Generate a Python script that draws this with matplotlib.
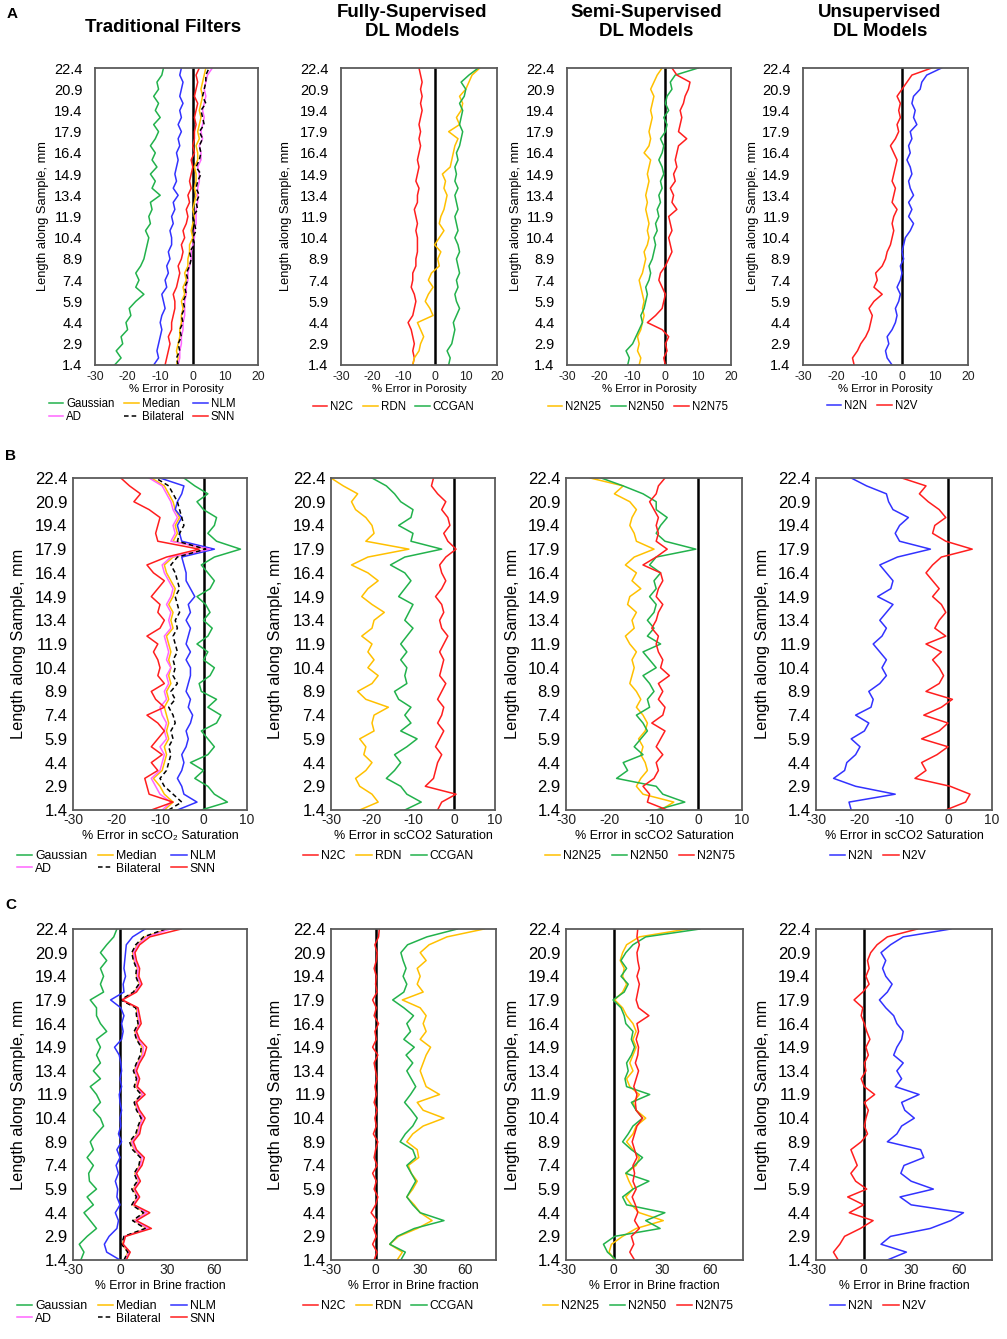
import numpy as np
import matplotlib
matplotlib.use('Agg')
import matplotlib.pyplot as plt

# depth ticks (mm) shared by every panel
y_ticks = [1.4, 2.9, 4.4, 5.9, 7.4, 8.9, 10.4, 11.9, 13.4, 14.9, 16.4, 17.9, 19.4, 20.9, 22.4]

# ---- A: % error in porosity, values from 1.4 mm (bottom) to 22.4 mm (top), every 0.5 mm
por_gaussian = [-24, -22, -23.5, -21.5, -22, -20, -20.5, -19, -19.5, -17.5,
                -15, -17.5, -16.5, -17.5, -16, -15, -14.5, -14, -13.5, -14.5,
                -13, -13.5, -12.5, -13, -10, -12.5, -11.5, -13, -11, -12.5,
                -11.5, -13, -11.5, -10.5, -12, -10, -11.5, -10.5, -12, -10.5,
                -11, -9.5, -9]
por_median = [-5, -4.5, -5, -4.5, -4, -4, -3.5, -3.5, -3, -3.5,
              -2.5, -3, -2, -2.5, -1.5, -1.5, -1, -1, 0, -0.5,
              0, 0.5, 0, 0.5, 1, 0.5, 1, 1, 0.5, 1.5,
              1.5, 1, 2, 1.5, 2, 2.5, 2, 2.5, 3, 2.5,
              3, 3.5, 4]
por_nlm = [-12, -10.5, -11, -10.5, -10, -9.5, -10, -9.5, -8.5, -9,
           -9.5, -8, -8.5, -7.5, -8, -7, -7.5, -6.5, -6.5, -7,
           -6, -6.5, -5.5, -6, -4.5, -6, -5, -5.5, -5, -4.5,
           -5, -4, -4.5, -3.5, -4.5, -3.5, -4, -3, -4, -3.5,
           -3, -4, -3.5]
por_ad = [-4.5, -4, -4, -3.5, -3.5, -3, -3, -2.5, -2.5, -2.5,
          -2, -2, -1.5, -1.5, -1, -0.5, -0.5, 0, 0.5, 0.5,
          1, 1, 1, 1.5, 1.5, 1.5, 2, 2, 1.5, 2.5,
          2.5, 2, 3, 2.5, 3, 3.5, 3, 3.5, 4, 3.5,
          4, 4.5, 6]
por_bilateral = [-4.5, -5, -4, -4.5, -3.5, -4, -3, -3.5, -2.5, -3,
                 -2, -2.5, -1.5, -2, -1, -0.5, -1, 0.5, 0, 1,
                 0.5, 0, 1.5, 1, 2, 1, 1.5, 2.5, 1, 2,
                 2.5, 2, 3, 2, 3.5, 3, 2.5, 4, 3, 3.5,
                 4, 4, 5]
por_snn = [-8.5, -8, -7.5, -7, -7.5, -6.5, -6.5, -6, -5.5, -5.5,
           -6, -5, -4.5, -4, -4.5, -3.5, -3, -3.5, -2.5, -3,
           -2, -1.5, -2, -1, -1.5, -0.5, -1, -0.5, 0, -0.5,
           0.5, 0, 0.5, 0.5, 1, 0.5, 1, 1.5, 0.5, 1,
           1.5, 1, 2]
por_n2c = [-7, -6.5, -7, -6.5, -7, -7.5, -8.5, -7, -6.5, -6,
           -6.5, -7.5, -7, -7, -6, -6, -5.5, -5.5, -5.5, -6,
           -5.5, -6, -6.5, -5.5, -5.5, -5, -6, -5.5, -5, -5.5,
           -5, -4.5, -5, -4.5, -5, -4.5, -4, -4.5, -4, -4.5,
           -4, -4.5, -5]
por_rdn = [-7, -6.5, -5, -4.5, -3.5, -4.5, -5.5, -0.5, -1.5, -3,
           -2, -0.5, -2, -1, 1.5, 1, 2, 0, 1.5, 3,
           1.5, 2, 3, 3.5, 4, 3, 3.5, 2.5, 5, 5.5,
           6, 6.5, 7.5, 4.5, 8, 7, 8.5, 9, 8, 10,
           11, 12, 14.5]
por_ccgan = [4.5, 5, 4, 5.5, 6, 6.5, 6, 7, 8, 7,
             6.5, 7.5, 7, 8, 7.5, 7, 8, 7.5, 6.5, 7.5,
             7, 6.5, 7.5, 7, 6.5, 7.5, 6.5, 7, 6.5, 7.5,
             7, 8, 8.5, 9, 8, 8.5, 9, 8, 9.5, 10,
             8.5, 11, 14]
por_n2n25 = [-8, -7.5, -8.5, -8, -8.5, -7.5, -7, -6.5, -7, -6.5,
             -7, -7.5, -8, -7, -6.5, -6, -6.5, -5.5, -5, -5.5,
             -5, -5.5, -6, -5.5, -6, -5.5, -5, -5.5, -5, -4.5,
             -6.5, -5, -4.5, -5, -4.5, -4, -4.5, -4, -3.5, -4.5,
             -3.5, -2.5, -1]
por_n2n50 = [-11.5, -11, -12, -10, -9, -8, -7, -7.5, -6.5, -6,
             -5.5, -6, -5, -4.5, -5, -4, -3.5, -3, -3.5, -2.5,
             -3, -2, -2.5, -1.5, -2, -1, -1.5, -0.5, -1, -2,
             -1, -0.5, -1.5, 0, 0.5, -0.5, 1, 0, 0.5, 2,
             1.5, 3, 10]
por_n2n75 = [0, -0.5, 0.5, 0, 1, -1, -5.5, -3, -1, -0.5,
             0, -1, -2, -1.5, 0, 1, 2, 1.5, 1, 2,
             1.5, 1, 3.5, 2, 2.5, 1.5, 3, 2.5, 3.5, 3,
             3.5, 4, 6.5, 4, 4.5, 5, 4.5, 5.5, 6, 7,
             7.5, 3.5, 2]
por_n2n = [-3, -4.5, -5, -4, -4.5, -3, -2, -1.5, -2, -1,
           -0.5, -1.5, -0.5, 0, -0.5, 0.5, 0, 0.5, 1, 2.5,
           3.5, 2, 3, 2, 3.5, 2.5, 2, 3, 2.5, 1.5,
           2.5, 2, 3, 2.5, 4.5, 3.5, 4, 3, 3.5, 5.5,
           6, 7.5, 12]
por_n2v = [-14.5, -15, -13.5, -12.5, -11, -10, -9.5, -9, -10, -8.5,
           -6, -8.5, -7.5, -8, -6, -5, -4.5, -3.5, -3, -2.5,
           -3, -2.5, -1.5, -3, -2.5, -2, -3, -2.5, -2, -1.5,
           -2.5, -3.5, -2, -1, -1.5, -0.5, -1, -0.5, -1.5, 0,
           1.5, 3, 9]

# ---- B: % error in scCO2 saturation
sat_gaussian = [-0.5, 5.5, 2.5, 1, -2, 0, -3, 1, 2.5, 1,
                -0.5, 3, 4, 1, 3, -0.5, -1, 1.5, 2.5, 0,
                1, -1.5, 1, 2, 0, 1.5, 0.5, -1.5, 1.5, 2.5,
                1, -0.5, 2.5, 8.5, 3, 1, 2.5, 3, 0, -1.5,
                1, -2, -4.5]
sat_median = [-9, -7, -9, -10, -11.5, -9.5, -9, -8.5, -9, -8,
              -8.5, -8, -8.5, -9, -8, -8.5, -7.5, -8, -7.5, -8,
              -7.5, -8, -8.5, -7, -7.5, -7, -8, -7, -6.5, -7.5,
              -8.5, -9, -7, 1, -7, -6, -6.5, -5.5, -6.5, -7,
              -8, -9, -12]
sat_nlm = [-6, -1.5, -4.5, -5, -6, -5, -4.5, -5, -4, -3.5,
           -4, -3, -2.5, -3.5, -3, -4, -3.5, -3, -3, -4,
           -3, -4, -3.5, -3, -4, -3, -3.5, -2, -3, -4,
           -4, -4.5, -5, 2.5, -5, -5.5, -6, -5, -6.5, -6,
           -5, -4.5, -10]
sat_ad = [-9.5, -7.5, -10, -11, -12, -10, -9.5, -9, -10, -8.5,
          -9, -8.5, -9.5, -10, -8.5, -9, -8, -8.5, -7.5, -8.5,
          -8, -8.5, -9, -7.5, -8, -7.5, -8.5, -7.5, -7, -8,
          -9, -9.5, -7.5, 1.5, -7.5, -6.5, -7, -6, -7, -7.5,
          -8.5, -9.5, -12.5]
sat_bilateral = [-8, -5, -7, -9, -10, -8.5, -8, -7.5, -8, -7,
                 -7.5, -6.5, -7, -8, -6.5, -7.5, -6, -7, -6.5, -7,
                 -6, -6.5, -7, -6, -6.5, -5.5, -6, -6.5, -5.5, -6,
                 -6.5, -7.5, -6, 0.5, -6, -5.5, -4.5, -5, -5.5, -6,
                 -7, -8, -11]
sat_snn = [-12, -7, -12.5, -13, -13.5, -10.5, -12, -9.5, -12, -10.5,
           -9, -10.5, -13, -9, -11, -12, -9, -10.5, -10, -10.5,
           -11.5, -10.5, -13, -10, -9, -10.5, -10, -12, -10.5, -9,
           -11.5, -13, -8.5, -1, -10.5, -11, -10.5, -10, -12.5, -16,
           -14.5, -17, -19]
sat_n2c = [-4, -3, 0.5, -7, -5, -4.5, -4, -3, -4.5, -3.5,
           -2.5, -4, -3, -2.5, -4, -3, -2, -3.5, -3, -2.5,
           -3.5, -2.5, -1.5, -3, -3.5, -2.5, -3, -4.5, -3, -2,
           -3, -3.5, -2, 0.5, -1.5, -2.5, -1, -1.5, -3, -2,
           -4, -5.5, -5]
sat_rdn = [-23, -18.5, -20, -23, -24, -21.5, -20, -22, -21.5, -23,
           -19.5, -20, -19.5, -16, -21.5, -23.5, -20, -18.5, -21, -19.5,
           -21, -20, -22.5, -20, -19.5, -17, -20, -22.5, -21, -18.5,
           -21, -25, -21, -11, -21.5, -19.5, -20, -21.5, -24, -25,
           -23.5, -27, -30]
sat_ccgan = [-12, -8, -11.5, -13, -16.5, -14.5, -13, -14.5, -11.5, -9,
             -13, -10.5, -12, -10.5, -13.5, -14.5, -11.5, -12, -11.5, -13,
             -11.5, -13, -11.5, -10, -12, -11, -10, -13.5, -12, -10.5,
             -12, -15.5, -12, -3, -10.5, -10, -13.5, -10.5, -10, -13,
             -14.5, -16.5, -20]
sat_n2n25 = [-8.5, -5.5, -12.5, -14, -13, -11.5, -12, -13, -12.5, -13.5,
             -12, -11.5, -12.5, -14, -13, -14, -15.5, -15, -14.5, -15,
             -14, -15.5, -16.5, -14.5, -15, -14, -16, -15.5, -13, -15,
             -14, -16.5, -14.5, -10, -14, -14.5, -15.5, -15, -14, -15.5,
             -19, -17, -24.5]
sat_n2n50 = [-9.5, -3, -8, -9.5, -18.5, -16, -17, -12.5, -14.5, -13,
             -11.5, -12.5, -14, -11, -11.5, -10, -11, -12.5, -9.5, -11,
             -12.5, -8.5, -11.5, -10, -11.5, -10, -9.5, -11, -9.5, -10,
             -8.5, -11, -9.5, -0.5, -7.5, -9.5, -8.5, -7, -9.5, -9.5,
             -12.5, -17, -22]
sat_n2n75 = [-7, -11.5, -11, -12.5, -10, -9, -9.5, -8, -9.5, -8.5,
             -7.5, -10.5, -8, -7.5, -9, -8, -9, -6.5, -8.5, -8,
             -9, -9.5, -9, -10.5, -9.5, -9, -8, -9.5, -9, -8,
             -8.5, -12.5, -9.5, -7, -9.5, -9, -9.5, -9, -10, -11,
             -9.5, -9, -7.5]
sat_n2n = [-22, -22.5, -12, -21, -26, -23.5, -23, -21, -20, -22,
           -19, -18, -21, -17.5, -17, -18, -15.5, -14, -15, -14,
           -15.5, -17, -15, -14, -15.5, -14, -12.5, -16, -13, -12.5,
           -14, -15.5, -11.5, -4, -11, -12, -11, -9, -12.5, -13.5,
           -14, -18.5, -22]
sat_n2v = [-0.5, 4, 5, 0.5, -7.5, -5, -6, -2.5, 0, -6,
           -2, 0, -5.5, -1.5, 1, -5, -2, -1, -2, -3.5,
           -1.5, -5, -0.5, -3, -2, -0.5, -1.5, -3.5, -2, -3.5,
           -5, -3.5, -1.5, 5.5, -0.5, -3.5, -3, -0.5, -2, -4.5,
           -6.5, -5, -10.5]

# ---- C: % error in brine fraction
brine_gaussian = [-25, -23, -26, -21, -15, -19, -23, -17, -21, -15,
                  -19.5, -20, -17, -21, -17, -19, -15, -10.5, -12.5, -17,
                  -12.5, -15, -19, -12.5, -17, -12.5, -15, -12.5, -15, -8.5,
                  -12.5, -15, -15, -19, -10.5, -12.5, -10.5, -12.5, -8.5, -12.5,
                  -8.5, -4, -2]
brine_median = [3, 5, 1.5, 3, 17, 9, 16, 8, 11, 8.5,
                11.5, 9.5, 12.5, 13.5, 9, 7, 11, 12, 14, 11,
                9.5, 14, 10, 11, 9, 11, 14, 14, 11, 9.5,
                12, 11, 10.5, 1, 9, 12.5, 10.5, 11, 9, 8,
                11, 16, 30]
brine_nlm = [0, -8.5, -10, -7, -2, -1, -3, 0, -2, -1.5,
             -3, -1, -2.5, 0, -2, 1, -1, 0.5, 0, 1,
             0, -0.5, 1, 0, 1, 0.5, -0.5, -3.5, 1, 2,
             1, 2.5, 0.5, -6, 2.5, 2, 3.5, 2.5, 3, 3.5,
             4, 8, 16]
brine_ad = [3.5, 5.5, 2, 3, 18, 9.5, 17, 8.5, 11.5, 9,
            12, 10, 13, 14, 9.5, 7.5, 11.5, 12.5, 14.5, 11.5,
            10, 14.5, 10.5, 11.5, 9.5, 11.5, 14.5, 15, 11.5, 10,
            12.5, 11.5, 11, 1, 9.5, 13, 11, 11.5, 9.5, 8.5,
            11.5, 17, 32]
brine_bilateral = [2.5, 5, 1, 2.5, 16, 8, 15, 7.5, 10.5, 7.5,
                   11, 9, 12, 13, 8, 6, 10, 11.5, 13.5, 10.5,
                   9, 13.5, 9, 10.5, 8.5, 10.5, 13, 13.5, 10.5, 9,
                   11.5, 10.5, 10, 0.5, 8.5, 12, 10, 10.5, 8.5, 7.5,
                   10, 15, 29]
brine_snn = [4, 6.5, 2, 3.5, 20, 10.5, 19, 9, 12.5, 9.5,
             13, 10.5, 14, 15.5, 10.5, 8.5, 12.5, 13.5, 16, 12.5,
             10.5, 16, 11, 12.5, 10.5, 12.5, 15.5, 17, 12.5, 10.5,
             13.5, 12.5, 11.5, 1.5, 10.5, 14, 12, 12.5, 10.5, 9.5,
             12.5, 19, 39]
brine_n2c = [-1, 1, -2, 0.5, -1.5, 1, -3, 0, 1.5, -1,
             0.5, -2, 1, -1, 0, 1.5, -1.5, 0.5, -0.5, 1,
             -1, 0.5, -0.5, 1, 0, -1, 1.5, -2, 0.5, -0.5,
             2, -1, 0.5, -2, 1, 0, 0.5, -1, 0.5, 1,
             -0.5, 2, 2.5]
brine_rdn = [14.5, 18, 9.5, 15.5, 28, 38, 30, 26, 21, 25,
             28, 24, 22, 29, 28, 21, 25, 32, 46, 32,
             28, 43, 34, 32, 30, 32, 34, 37, 30, 34,
             32, 34, 30, 18, 32, 28, 30, 28, 34, 30,
             36, 48, 73]
brine_ccgan = [17, 20, 9.5, 14.5, 26, 46, 30, 25, 21, 24,
               27, 24, 21, 27, 25, 16.5, 20, 25, 28, 24,
               19.5, 23.5, 27, 24, 21, 25, 20.5, 26, 19, 23.5,
               21, 25.5, 19, 11.5, 19, 21, 18.5, 20.5, 18.5, 17,
               21.5, 34.5, 55]
brine_n2n25 = [0.5, -3, -1.5, 5.5, 14, 31, 16, 11, 7.5, 12,
               9.5, 7.5, 14, 16, 12, 8, 12, 14, 20, 14,
               12, 16, 10, 8, 12, 10, 12, 14, 12, 14,
               12, 8, 5.5, 0.5, 5.5, 8, 5.5, 6.5, 4, 5.5,
               8, 16, 46]
brine_n2n50 = [1.5, -4, -6.5, 0.5, 29, 20, 32, 8, 5.5, 12,
               22, 7.5, 13, 18, 11, 5.5, 9, 12, 18, 14,
               11, 22.5, 8, 7, 9, 8, 11, 13, 11, 12,
               7.5, 6.5, 4.5, -0.5, 6.5, 9, 4.5, 8, 4.5, 7.5,
               12, 20, 54]
brine_n2n75 = [13, 10, 12.5, 11, 16, 13, 15, 13.5, 11.5, 14,
               12, 13, 12, 14.5, 13, 11.5, 13, 14.5, 18, 14,
               13.5, 14.5, 12.5, 14, 15.5, 13.5, 15, 15.5, 14, 15.5,
               14.5, 22, 15.5, 14, 15, 16, 14.5, 16, 15, 14.5,
               16, 14.5, 15]
brine_n2n = [15, 27, 11, 17, 42, 55, 63, 30, 23, 44,
             30, 23.5, 25.5, 38, 36, 15, 21, 24, 32, 26,
             24, 35, 20, 24, 21, 25, 19, 21, 24, 25,
             21, 19, 14, 10, 15, 18, 14, 12, 14, 11,
             17, 25, 55]
brine_n2v = [-16, -19, -15, -12, -2, 6, -9, 0, -10, 2,
             -5, -8, -4, -6, -8, -1.5, 2.5, 0.5, 1.5, 3,
             0.5, 7, 0.5, -1.5, 1.5, 0.5, 3, 1.5, 4, 2,
             0.5, -1.5, -0.5, -6, -0.5, 3.5, 1.5, 3.5, 2.5, 4.5,
             8.5, 15, 34]

GREEN = '#22b24c'
YELLOW = '#ffc000'
BLUE = '#3232ff'
RED = '#ff1e1e'
PINK = '#ff66ff'
DASH = (0, (3, 2))

plt.rcParams['font.family'] = ['Liberation Sans', 'DejaVu Sans']

W, H = 1007, 1339
fig = plt.figure(figsize=(W / 100, H / 100), dpi=100)


def rect(l, t, r, b):
    return [l / W, 1 - b / H, (r - l) / W, (b - t) / H]


fs_a = dict(ytick=10.5, xtick=8.8, xlabel=8.2, ylabel=9.3, legend=8.3, ypad=9, xpad=4, xlpad=1)
fs_b = dict(ytick=12, xtick=10, xlabel=9, ylabel=11.7, legend=8.8, ypad=4, xpad=2, xlpad=2)
fs_c = dict(ytick=12, xtick=10, xlabel=8.8, ylabel=11.7, legend=8.8, ypad=4, xpad=2, xlpad=2)


def draw(box, series, xlim, xticks, xlabel, fs, ylab_dx, leg_xy, ncol, order=None):
    ax = fig.add_axes(rect(*box))
    ax.axvline(0, color='black', lw=1.8, zorder=1.5)
    handles = []
    for label, vals, color, ls in series:
        depth = np.linspace(y_ticks[0], y_ticks[-1], len(vals))
        h, = ax.plot(vals, depth, color=color, ls=ls, lw=1.1, label=label, zorder=2)
        handles.append(h)
    ax.set_xlim(*xlim)
    ax.set_ylim(y_ticks[0], y_ticks[-1])
    ax.set_xticks(xticks)
    ax.set_xticklabels([str(t) for t in xticks])
    ax.set_yticks(y_ticks)
    ax.set_yticklabels(['%.1f' % v for v in y_ticks])
    ax.tick_params(axis='y', length=0, pad=fs['ypad'], labelsize=fs['ytick'])
    ax.tick_params(axis='x', length=0, pad=fs['xpad'], labelsize=fs['xtick'], labelcolor='#222222')
    for s in ax.spines.values():
        s.set_color('#5a5a5a')
        s.set_linewidth(1.3)
    ax.set_xlabel(xlabel, fontsize=fs['xlabel'], labelpad=fs['xlpad'])
    ax.set_ylabel('Length along Sample, mm', fontsize=fs['ylabel'])
    width = box[2] - box[0]
    ax.yaxis.set_label_coords(-(ylab_dx - fs['ylabel'] * 0.7) / width, 0.5)

    if order is not None:
        handles = [handles[i] for i in order]
    fig.legend(handles, [h.get_label() for h in handles], loc='upper left',
               bbox_to_anchor=(leg_xy[0] / W, 1 - leg_xy[1] / H), ncol=ncol,
               frameon=False, fontsize=fs['legend'], handlelength=1.25,
               handletextpad=0.25, columnspacing=0.85, borderpad=0,
               borderaxespad=0, labelspacing=0.05)
    return ax


filt_order = [0, 3, 1, 4, 2, 5]


def filters(g, m, n, a, b, s):
    return [('Gaussian', g, GREEN, '-'), ('Median', m, YELLOW, '-'),
            ('NLM', n, BLUE, '-'), ('AD', a, PINK, '-'),
            ('Bilateral', b, 'black', DASH), ('SNN', s, RED, '-')]


def fully(c, r, g):
    return [('N2C', c, RED, '-'), ('RDN', r, YELLOW, '-'), ('CCGAN', g, GREEN, '-')]


def semi(a, b, c):
    return [('N2N25', a, YELLOW, '-'), ('N2N50', b, GREEN, '-'), ('N2N75', c, RED, '-')]


def unsup(n, v):
    return [('N2N', n, BLUE, '-'), ('N2V', v, RED, '-')]


# row A
xa = (-30, 20)
ta = [-30, -20, -10, 0, 10, 20]
la = '% Error in Porosity'
draw((95, 68, 258, 365), filters(por_gaussian, por_median, por_nlm, por_ad, por_bilateral, por_snn),
     xa, ta, la, fs_a, 53, (49, 398), 3, filt_order)
draw((341, 68, 497, 365), fully(por_n2c, por_rdn, por_ccgan), xa, ta, la, fs_a, 56, (313, 401), 3)
draw((567, 68, 731, 365), semi(por_n2n25, por_n2n50, por_n2n75), xa, ta, la, fs_a, 52, (548, 401), 3)
draw((803, 68, 968, 365), unsup(por_n2n, por_n2v), xa, ta, la, fs_a, 51, (827, 400), 2)

# row B
xb = (-30, 10)
tb = [-30, -20, -10, 0, 10]
lb = '% Error in scCO2 Saturation'
draw((73, 478, 247, 810), filters(sat_gaussian, sat_median, sat_nlm, sat_ad, sat_bilateral, sat_snn),
     xb, tb, '% Error in scCO\u2082 Saturation', fs_b, 55, (17, 850), 3, filt_order)
draw((331, 478, 495, 810), fully(sat_n2c, sat_rdn, sat_ccgan), xb, tb, lb, fs_b, 56, (303, 850), 3)
draw((566, 478, 742, 810), semi(sat_n2n25, sat_n2n50, sat_n2n75), xb, tb, lb, fs_b, 54, (545, 850), 3)
draw((816, 478, 992, 810), unsup(sat_n2n, sat_n2v), xb, tb, lb, fs_b, 54, (830, 850), 2)

# row C
xc = (-30, 81)
tc = [-30, 0, 30, 60]
lc = '% Error in Brine fraction'
draw((73, 929, 247, 1260), filters(brine_gaussian, brine_median, brine_nlm, brine_ad, brine_bilateral, brine_snn),
     xc, tc, lc, fs_c, 55, (17, 1300), 3, filt_order)
draw((331, 929, 496, 1260), fully(brine_n2c, brine_rdn, brine_ccgan), xc, tc, lc, fs_c, 56, (303, 1300), 3)
draw((566, 929, 743, 1260), semi(brine_n2n25, brine_n2n50, brine_n2n75), xc, tc, lc, fs_c, 54, (543, 1300), 3)
draw((816, 929, 992, 1260), unsup(brine_n2n, brine_n2v), xc, tc, lc, fs_c, 54, (830, 1300), 2)

# column titles and panel letters
titles = ['Traditional Filters', 'Fully-Supervised\nDL Models',
          'Semi-Supervised\nDL Models', 'Unsupervised\nDL Models']
title_x = [163, 412, 646, 880]
title_y = [27, 22, 22, 22]
for t, x, y in zip(titles, title_x, title_y):
    fig.text(x / W, 1 - y / H, t, ha='center', va='center', fontsize=13.5,
             fontweight='bold', linespacing=1.1)

for letter, x, y in [('A', 12, 14), ('B', 11, 456), ('C', 11, 905)]:
    fig.text(x / W, 1 - y / H, letter, ha='center', va='center', fontsize=11, fontweight='bold')

fig.savefig('out.png', dpi=100, facecolor='white')
